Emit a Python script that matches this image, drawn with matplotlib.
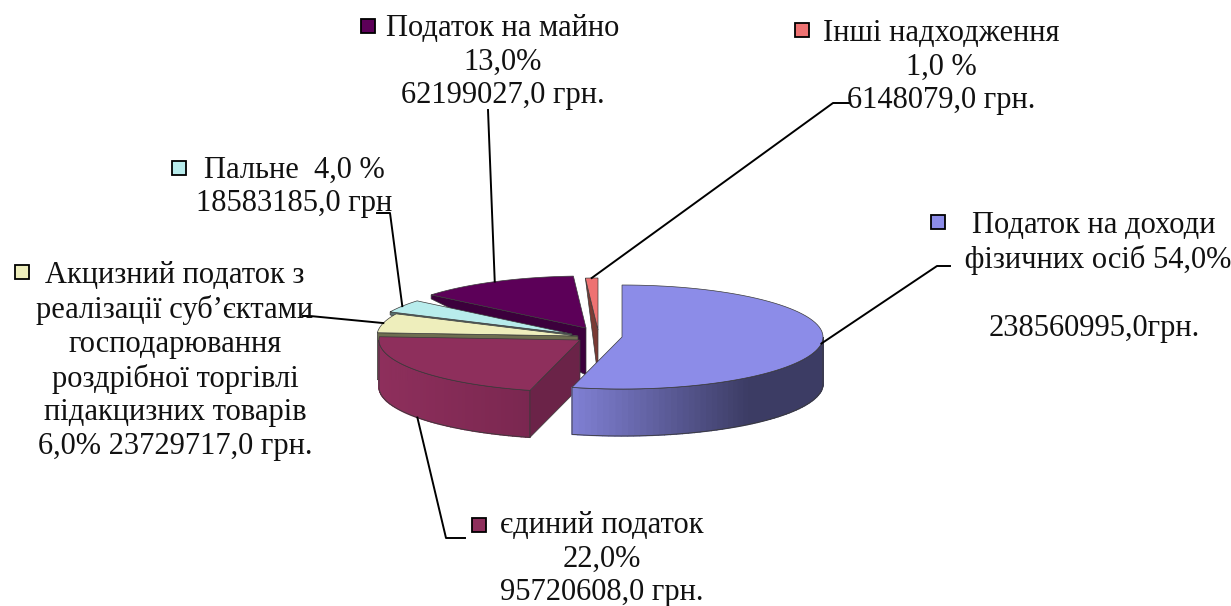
import numpy as np
import matplotlib
matplotlib.use("Agg")
import matplotlib.pyplot as plt
from matplotlib.colors import to_rgb
from matplotlib.patches import Polygon, Rectangle

plt.rcParams["font.family"] = ["Liberation Serif", "DejaVu Serif"]

# shares, clockwise from 12 o'clock
names = ["Податок на доходи фізичних осіб", "єдиний податок", "Акцизний податок",
         "Пальне", "Податок на майно", "Інші надходження"]
shares = [54.0, 22.0, 6.0, 4.0, 13.0, 1.0]

top_colors = ["#8c8ce8", "#8e2f5c", "#eeeebc", "#b8ecec", "#5c0058", "#ee7272"]
wall_left = ["#8080d4", "#8e2f5c", "#6e6e50", "#5a6e6e", "#3c003c", "#7a3a34"]
wall_right = ["#3c3c64", "#7a2750", "#6e6e50", "#5a6e6e", "#3c003c", "#7a3a34"]
face_colors = ["#3c3c64", "#6b2348", "#6e6e50", "#5a6e6e", "#3c003c", "#7a3a34"]

# exploded centre of each slice, pixels
centers = [(622, 337), (580, 340), (578, 336), (572, 334), (586, 328), (598, 330)]
face_drop = [0, 47, 47, 3, 4, 0]

label_texts = [
    "Податок на доходи\n фізичних осіб 54,0%\n\n238560995,0грн.",
    "єдиний податок\n22,0%\n95720608,0 грн.",
    "Акцизний податок з\nреалізації суб’єктами\nгосподарювання\nроздрібної торгівлі\nпідакцизних товарів\n6,0% 23729717,0 грн.",
    "Пальне  4,0 %\n18583185,0 грн",
    "Податок на майно\n13,0%\n62199027,0 грн.",
    "Інші надходження\n1,0 %\n6148079,0 грн.",
]
label_pos = [(1094, 277), (602, 559), (175, 361), (294, 187), (503, 62), (941, 67)]
key_pos = [(938, 222), (479, 525), (22, 272), (179, 168), (368, 26), (802, 30)]
# leader line: elbow then end, pixels
leader_elbow = [(937, 266), (446, 538), (310, 316), (390, 213), (488, 110), (833, 103)]
leader_end = [(950, 266), (465, 538), (303, 316), (377, 213), (488, 110), (850, 103)]

RX, RY, DEPTH = 201, 52, 47

fig = plt.figure(figsize=(12.31, 6.06), dpi=100)
ax = fig.add_axes([0, 0, 1, 1])
ax.set_xlim(0, 1231)
ax.set_ylim(606, 0)
ax.axis("off")


def rim(c, deg):
    a = np.radians(deg)
    return c[0] + RX * np.sin(a), c[1] - RY * np.cos(a)


bounds = np.concatenate([[0], np.cumsum(shares)]) * 3.6
edge = "#3a3a3a"

# back to front
for i in [4, 5, 3, 2, 1, 0]:
    c = centers[i]
    a0, a1 = bounds[i], bounds[i + 1]

    # outer wall, front half of the ellipse only
    w0, w1 = max(a0, 90), min(a1, 270)
    if w1 > w0:
        steps = np.linspace(w0, w1, 60)
        x_left, x_right = rim(c, steps[-1])[0], rim(c, steps[0])[0]
        for s0, s1 in zip(steps[:-1], steps[1:]):
            p0, p1 = rim(c, s0), rim(c, s1)
            t = (x_right - 0.5 * (p0[0] + p1[0])) / (x_right - x_left)
            if i == 0:
                # blue stays dark over the right part, lightens towards the left
                t = max(0, (t - 0.3) / 0.7)
            col = np.array(to_rgb(wall_right[i])) * (1 - t) + np.array(to_rgb(wall_left[i])) * t
            ax.add_patch(Polygon([p0, p1, (p1[0], p1[1] + DEPTH), (p0[0], p0[1] + DEPTH)],
                                 fc=col, ec=col, lw=1.0, zorder=2))
        xs = [rim(c, s) for s in steps]
        outline = xs + [(x, y + DEPTH) for x, y in xs[::-1]]
        ax.add_patch(Polygon(outline, fc="none", ec=edge, lw=0.6, zorder=2))

    # cut face on the clockwise-start side
    if i != 0:
        r = rim(c, a0)
        ax.add_patch(Polygon([r, c, (c[0], c[1] + DEPTH), (r[0], r[1] + face_drop[i])],
                             fc=face_colors[i], ec=edge, lw=0.5, zorder=2))

    # top surface
    pts = [c] + [rim(c, d) for d in np.linspace(a0, a1, 80)]
    ax.add_patch(Polygon(pts, fc=top_colors[i], ec=edge, lw=0.5, zorder=2))

# leader lines start on the slice rim at the mid angle
for i in range(len(shares)):
    mid = 0.5 * (bounds[i] + bounds[i + 1])
    x, y = rim(centers[i], mid)
    if np.cos(np.radians(mid)) < -0.3:
        y += DEPTH
    ax.plot([x, leader_elbow[i][0], leader_end[i][0]],
            [y, leader_elbow[i][1], leader_end[i][1]], color="black", lw=1.4, zorder=3)

for i, txt in enumerate(label_texts):
    ax.text(label_pos[i][0], label_pos[i][1], txt, ha="center", va="center",
            fontsize=22, linespacing=1.22, color="#111111", zorder=4)
    ax.add_patch(Rectangle((key_pos[i][0] - 7, key_pos[i][1] - 7), 14, 14,
                           fc=top_colors[i], ec="black", lw=1.3, zorder=4))

fig.savefig("out.png", dpi=100)
